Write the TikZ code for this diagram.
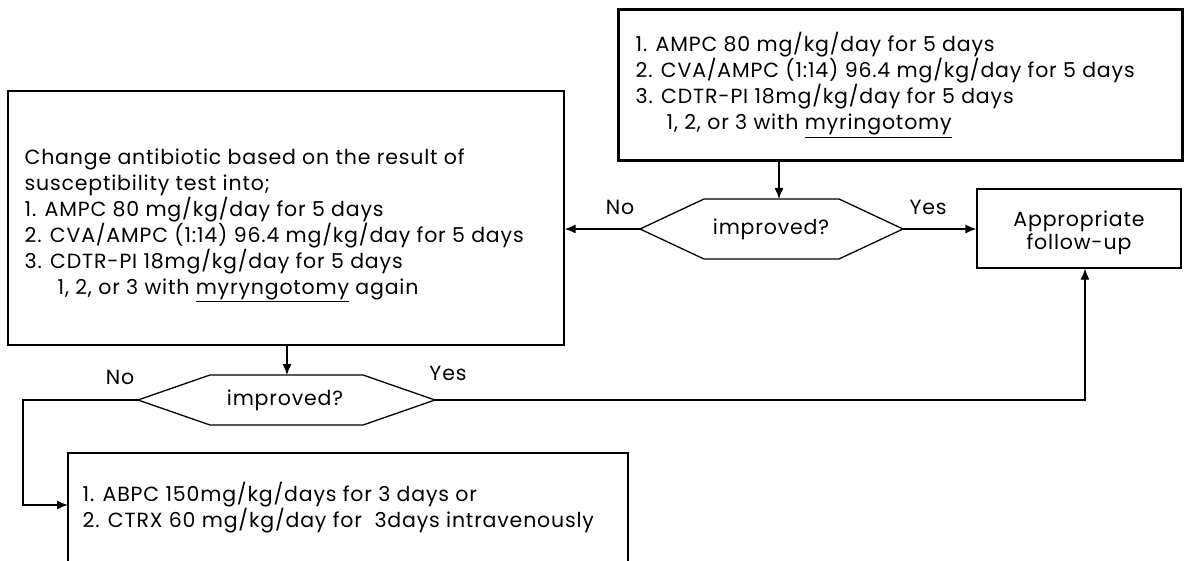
\documentclass[tikz,border=0pt]{standalone}
\usepackage{fontspec}
\setmainfont{Poppins}[LetterSpace=4]
\usetikzlibrary{arrows.meta}
\begin{document}
\begin{tikzpicture}[x=1pt,y=-1pt, line width=1.3pt,
  arr/.style={-{Latex[length=11pt,width=9pt]}},
  boxtxt/.style={anchor=north west, inner sep=0pt, align=left, font=\fontsize{20.5}{26}\selectfont},
  lbl/.style={inner sep=0pt, font=\fontsize{20.5}{23}\selectfont},
  boxframe/.style={draw, inner sep=0pt}]
\useasboundingbox (0,0) rectangle (1185,561);
% boxes
\node[boxframe, line width=3pt, minimum width=564pt, minimum height=151pt] (top) at (900,85.5) {};
\node[boxframe, minimum width=556pt, minimum height=254pt] (left) at (286,218) {};
\node[boxframe, minimum width=204pt, minimum height=79pt] (fu) at (1079,228.5) {};
\coordinate (bl) at (68,561);
\coordinate (br) at (628,561);
\draw (bl) -- (68,453) -- (628,453) -- (br);
% texts
\node[boxtxt] (toptxt) at (635,32) {1. AMPC 80 mg/kg/day for 5 days\\2. CVA/AMPC (1:14) 96.4 mg/kg/day for 5 days\\3. CDTR-PI 18mg/kg/day for 5 days\\\hspace*{31pt}1, 2, or 3 with \underline{myringotomy}};
\node[boxtxt] (lefttxt) at (24,148) {Change antibiotic based on the result of\\susceptibility test into;\\1. AMPC 80 mg/kg/day for 5 days\\2. CVA/AMPC (1:14) 96.4 mg/kg/day for 5 days\\3. CDTR-PI 18mg/kg/day for 5 days\\\hspace*{33pt}1, 2, or 3 with \underline{myryngotomy} again};
\node[lbl, align=center, font=\fontsize{20.5}{23}\selectfont] (futxt) at (1079,233) {Appropriate\\follow-up};
\node[boxtxt] (bottxt) at (82,482) {1. ABPC 150mg/kg/days for 3 days or\\2. CTRX 60 mg/kg/day for\ \ 3days intravenously};
% decisions
\coordinate (d1w) at (640,229); \coordinate (d1e) at (903,229);
\coordinate (d1n) at (779,199);
\draw (d1w) -- (704,199) -- (839,199) -- (d1e) -- (839,259) -- (704,259) -- cycle;
\node[lbl] (d1) at (771,229) {improved?};
\coordinate (d2w) at (138,400); \coordinate (d2e) at (435,400);
\coordinate (d2n) at (287,375);
\draw (d2w) -- (210,375) -- (363,375) -- (d2e) -- (363,425) -- (210,425) -- cycle;
\node[lbl] (d2) at (285,400) {improved?};
% labels
\node[lbl] (no1) at (620,207) {No};
\node[lbl] (yes1) at (928,207) {Yes};
\node[lbl] (no2) at (120,377) {No};
\node[lbl] (yes2) at (448,373) {Yes};
% connectors
\coordinate (c1) at (1085,400);
\coordinate (c2) at (23,400);
\coordinate (c3) at (23,505);
\draw[arr] (top.south -| d1n) -- (d1n);
\draw[arr] (d1w) -- (d1w -| left.east);
\draw[arr] (d1e) -- (d1e -| fu.west);
\draw[arr] (left.south -| d2n) -- (d2n);
\draw[arr] (d2e) -- (c1) -- (c1 |- fu.south);
\draw[arr] (d2w) -- (c2) -- (c3) -- (c3 -| bl);
\end{tikzpicture}
\end{document}
